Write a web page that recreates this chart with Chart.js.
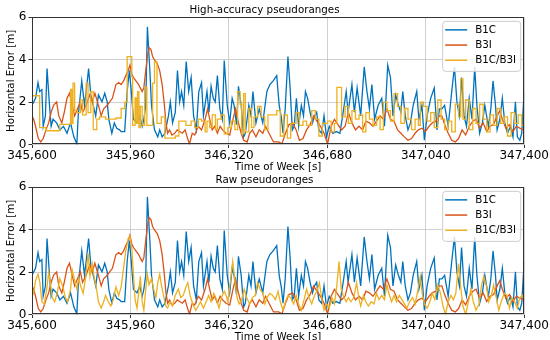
<!DOCTYPE html>
<html>
<head>
<meta charset="utf-8">
<script src="https://cdn.jsdelivr.net/npm/chart.js@4.4.1/dist/chart.umd.min.js"></script>
<style>
html, body { margin: 0; padding: 0; background: #fff; overflow: hidden; width: 550px; height: 340px; }
.wrap { position: absolute; left: 0; width: 550px; height: 174px; }
</style>
</head>
<body>
<div class="wrap" style="top:0px"><canvas id="hpChart" width="550" height="174"></canvas></div>
<div class="wrap" style="top:170px"><canvas id="rawChart" width="550" height="174"></canvas></div>
<script>
// --- DATA (time of week [s], horizontal error [m]) ---
const xTicks = [345600, 345960, 346320, 346680, 347040, 347400];
const yTicks = [0, 2, 4, 6];
const seriesNames = ['B1C', 'B3I', 'B1C/B3I'];

// B1C single frequency (same in both panels)
const b1cT = [345600,345613,345622,345628,345636,345641,345649,345655,345664,345670,345677,345690,345702,345715,345728,345741,345753,345764,345769,345782,345792,345798,345807,345815,345824,345833,345843,345856,345866,345875,345881,345892,345901,345910,345920,345926,345939,345948,345956,345962,345971,345984,345994,346003,346009,346016,346022,346031,346037,346048,346060,346067,346076,346086,346099,346106,346114,346124,346132,346140,346147,346155,346164,346173,346182,346191,346201,346210,346220,346227,346240,346247,346255,346263,346270,346278,346287,346296,346303,346314,346323,346332,346339,346348,346355,346365,346374,346380,346393,346401,346408,346419,346431,346444,346459,346470,346482,346495,346504,346512,346518,346526,346536,346544,346552,346559,346567,346575,346585,346593,346600,346608,346617,346626,346633,346641,346649,346659,346668,346677,346687,346700,346713,346726,346738,346749,346756,346770,346779,346789,346802,346815,346825,346834,346843,346853,346866,346879,346889,346901,346911,346920,346930,346940,346949,346956,346965,346975,346984,346994,347007,347015,347026,347035,347045,347058,347071,347081,347090,347099,347109,347122,347135,347145,347154,347163,347171,347180,347189,347199,347209,347219,347227,347237,347247,347256,347269,347278,347286,347295,347301,347311,347320,347329,347339,347350,347359,347368,347375,347384,347391,347400];
const b1cV = [1.85,2.18,2.92,2.5,2.59,0.86,1.35,3.58,1.85,0.86,1.19,1.02,0.69,0.86,0.53,1.02,0.36,0.03,1.35,3.0,1.85,2.5,3.58,2.34,1.85,1.35,2.34,2.01,2.42,2.01,1.19,0.53,1.02,0.77,0.69,0.61,0.61,2.5,3.49,2.67,1.19,1.02,1.35,0.86,1.19,1.85,5.55,3.49,1.85,0.69,0.36,0.69,0.36,0.53,1.35,2.01,1.02,1.52,3.49,2.01,2.5,1.85,3.91,2.5,3.16,1.35,0.69,2.5,2.92,1.35,2.5,1.52,2.75,2.18,2.01,3.25,1.68,1.19,3.96,1.85,1.02,2.18,1.85,0.94,2.75,1.85,0.36,0.53,1.85,1.35,2.5,1.02,1.68,1.02,2.5,2.83,3.0,3.25,1.85,1.27,0.53,1.68,4.15,2.67,0.69,0.86,2.18,0.86,1.85,1.35,2.5,2.18,1.52,1.02,1.35,1.52,0.69,0.53,1.35,0.36,0.86,0.53,0.61,0.53,1.52,2.5,1.52,2.83,1.52,2.67,1.35,3.66,2.5,1.68,2.83,1.19,1.85,2.18,0.86,3.74,3.16,1.35,2.34,1.85,1.52,2.5,1.35,0.69,1.02,1.85,2.5,1.19,1.85,0.2,1.35,2.18,2.67,0.69,1.68,1.68,1.85,0.86,2.5,3.66,2.01,1.35,3.16,1.35,0.86,2.18,1.19,3.66,1.85,0.53,1.02,1.85,0.86,1.68,3.0,1.85,0.69,1.19,2.18,1.02,0.53,0.86,0.36,2.01,0.36,0.2,0.53,2.5];

// B3I single frequency (same in both panels)
const b3iT = [345600,345606,345613,345623,345632,345641,345651,345661,345670,345679,345690,345698,345709,345718,345728,345737,345747,345756,345766,345777,345785,345798,345811,345820,345830,345843,345853,345862,345875,345884,345894,345907,345917,345926,345935,345943,345952,345958,345965,345971,345980,345990,345996,346003,346009,346016,346022,346028,346035,346041,346048,346058,346067,346076,346083,346090,346096,346103,346112,346122,346131,346140,346150,346160,346169,346176,346186,346195,346208,346220,346233,346242,346250,346259,346268,346278,346288,346297,346310,346323,346335,346344,346355,346365,346374,346387,346396,346406,346419,346431,346444,346454,346470,346483,346502,346514,346527,346540,346553,346566,346578,346591,346604,346617,346630,346642,346655,346668,346681,346694,346706,346719,346732,346745,346757,346770,346783,346796,346809,346821,346834,346847,346860,346873,346885,346898,346911,346924,346937,346949,346962,346975,346988,347001,347013,347026,347039,347052,347064,347077,347090,347099,347109,347122,347135,347148,347160,347173,347186,347199,347212,347224,347237,347250,347263,347275,347288,347301,347311,347320,347333,347346,347359,347371,347384,347397];
const b3iV = [1.35,1.19,0.86,0.28,0.12,0.28,0.69,1.02,1.52,1.85,2.01,1.35,1.02,1.52,2.18,2.42,1.85,1.35,1.68,2.01,1.52,1.85,2.34,2.01,2.42,1.85,1.35,1.68,1.85,2.01,2.18,2.83,2.92,2.83,3.0,3.25,3.49,3.74,3.33,3.16,3.0,2.83,2.67,2.5,2.67,3.49,4.15,4.57,4.48,4.15,3.99,3.82,3.49,2.83,2.01,1.02,0.53,0.69,0.45,0.53,0.69,0.61,0.53,0.69,0.28,0.03,0.53,0.45,0.86,0.69,1.19,1.68,1.19,0.69,0.86,0.53,0.86,0.69,0.53,0.45,1.19,1.68,1.02,0.53,0.2,0.12,0.53,0.69,0.36,0.69,0.53,0.86,0.45,0.12,0.12,0.03,0.53,0.94,1.02,0.69,0.2,0.28,0.69,0.94,1.35,1.1,0.86,0.53,0.03,0.86,1.19,0.94,0.69,0.86,1.52,1.02,0.69,0.86,0.69,1.1,1.02,0.86,1.1,1.35,1.19,1.68,1.19,1.1,0.69,0.53,0.36,0.2,0.28,0.53,0.69,0.77,0.61,0.86,1.02,1.1,1.35,1.35,0.94,0.53,0.2,0.12,0.28,0.69,0.45,0.86,1.1,1.19,0.77,1.02,0.61,0.86,0.94,1.35,1.6,1.19,0.77,0.94,0.61,0.86,0.77,0.69];

// B1C/B3I dual frequency, high-accuracy pseudoranges (held steps)
const hpT = [345600,345628,345651,345702,345741,345746,345750,345756,345766,345777,345785,345798,345805,345815,345824,345837,345847,345869,345907,345926,345939,345948,345965,345968,345977,345981,345986,345991,345996,346003,346012,346020,346041,346048,346057,346073,346086,346124,346137,346163,346182,346195,346208,346220,346233,346240,346250,346259,346271,346278,346291,346303,346316,346329,346342,346352,346361,346367,346374,346380,346393,346403,346412,346425,346438,346451,346463,346495,346508,346521,346534,346546,346566,346578,346591,346604,346623,346636,346649,346662,346681,346694,346706,346715,346732,346745,346757,346770,346783,346796,346809,346821,346834,346847,346860,346873,346885,346898,346911,346924,346937,346949,346962,346975,346988,347001,347013,347020,347032,347045,347058,347071,347084,347096,347109,347122,347135,347148,347160,347168,347176,347186,347199,347212,347224,347237,347250,347263,347275,347288,347301,347314,347327,347339,347352,347365,347378,347391,347400];
const hpV = [2.3,0.8,0.65,0.95,2.6,1.0,2.9,1.6,1.5,2.1,1.4,2.9,1.5,2.5,0.7,1.2,1.3,1.2,1.25,1.7,2.0,4.15,3.2,0.9,2.2,1.0,2.5,0.8,1.8,0.9,2.7,0.9,2.9,3.9,1.0,1.3,0.3,0.4,1.1,0.9,1.1,0.8,1.2,1.1,0.6,1.1,0.8,1.4,0.7,1.2,1.4,0.5,0.8,1.1,0.7,2.5,1.9,0.5,2.4,0.6,1.7,0.8,1.3,1.8,1.3,0.7,1.4,1.6,0.4,1.4,0.3,1.0,1.5,0.9,1.1,0.9,1.6,1.2,0.4,1.0,1.1,0.6,1.0,2.7,1.3,1.8,1.0,1.6,1.2,1.4,0.6,1.5,1.2,0.9,1.3,0.7,2.0,1.6,1.1,2.4,1.8,1.0,1.7,1.2,0.7,1.2,0.9,2.0,1.8,1.1,1.5,0.8,2.1,1.2,0.7,1.1,0.6,1.9,1.3,3.1,1.2,2.1,0.7,1.7,1.0,1.9,1.2,0.6,1.4,0.9,1.7,1.0,1.3,0.4,1.5,1.0,1.4,0.9,0.9];

// B1C/B3I dual frequency, raw pseudoranges
const rawT = [345600,345606,345613,345622,345629,345636,345645,345655,345661,345668,345674,345683,345692,345702,345713,345722,345730,345741,345747,345756,345764,345771,345779,345787,345797,345805,345812,345820,345828,345835,345843,345853,345862,345869,345879,345888,345897,345907,345917,345926,345935,345943,345952,345958,345965,345971,345977,345984,345990,345996,346003,346009,346016,346022,346028,346037,346045,346053,346060,346067,346073,346081,346089,346096,346105,346114,346124,346135,346144,346153,346163,346170,346178,346188,346199,346208,346216,346227,346237,346246,346255,346265,346275,346284,346293,346303,346310,346316,346325,346334,346342,346350,346357,346367,346376,346385,346396,346406,346416,346425,346434,346444,346452,346459,346470,346480,346490,346500,346508,346518,346527,346536,346546,346557,346566,346575,346585,346595,346604,346613,346623,346633,346642,346651,346659,346668,346677,346687,346697,346706,346715,346723,346731,346738,346749,346757,346766,346777,346787,346795,346802,346812,346821,346830,346841,346851,346860,346869,346879,346889,346898,346905,346915,346924,346933,346943,346953,346962,346971,346981,346992,347001,347009,347020,347027,347035,347045,347055,347064,347073,347084,347094,347103,347112,347122,347132,347141,347150,347160,347168,347176,347186,347196,347205,347214,347224,347235,347243,347252,347263,347270,347280,347288,347298,347307,347316,347327,347337,347346,347355,347365,347375,347384,347393,347400];
const rawV = [1.2,1.0,1.6,1.9,1.5,0.6,0.5,1.3,2.0,1.4,0.8,0.6,1.0,1.7,1.3,0.8,0.6,1.2,2.1,1.6,1.2,1.7,1.3,1.0,1.8,2.9,1.8,2.4,1.7,1.3,0.6,0.3,0.6,0.9,0.6,0.4,0.7,1.3,0.9,1.3,2.2,3.0,3.6,3.7,3.1,1.9,0.7,0.3,1.0,1.8,0.6,0.2,1.2,1.9,1.4,1.7,1.2,0.8,1.5,1.9,1.4,0.9,0.4,0.3,0.6,0.4,0.9,1.2,0.8,0.9,1.3,1.5,0.9,0.5,0.2,0.4,0.6,0.3,0.6,0.9,0.6,1.0,0.7,0.3,0.8,1.1,0.9,0.6,1.5,2.5,1.6,0.8,0.5,0.7,1.2,0.8,0.5,0.8,0.9,1.5,1.2,1.0,0.5,0.8,1.0,0.9,0.7,1.1,0.6,0.2,0.6,0.9,0.8,0.5,0.9,0.5,0.2,0.7,1.2,0.8,0.5,0.9,1.1,1.5,0.8,0.2,0.5,0.3,0.8,0.5,1.4,2.5,1.2,0.9,0.6,0.8,0.6,0.8,1.5,0.8,0.4,0.9,0.6,0.4,0.6,0.5,1.0,0.7,0.9,0.7,1.4,1.0,0.6,0.9,0.6,0.9,0.7,0.5,0.3,0.6,0.8,0.5,1.0,1.8,1.0,0.5,0.3,0.6,1.0,0.7,1.4,1.0,0.4,0.0,0.6,0.9,0.7,1.0,2.4,1.3,0.4,0.0,0.6,1.2,0.6,0.2,0.5,1.3,1.8,1.3,0.6,0.9,1.4,0.8,0.2,0.6,1.0,0.9,0.3,0.8,0.6,0.3,0.8,0.9,0.7];

const colors = ['#0072BD', '#D95319', '#EDB120'];
const FONT = "'DejaVu Sans', sans-serif";

function pts(t, v) {
    const n = Math.min(t.length, v.length);
    const out = [];
    for (let i = 0; i < n; i++) out.push({ x: t[i], y: v[i] });
    return out;
}

// --- frame + legend drawn inside the plot, matplotlib style ---
const framePlugin = {
    id: 'frame',
    afterDatasetsDraw(chart) {
        const { ctx, chartArea: a } = chart;
        ctx.save();
        ctx.strokeStyle = '#333';
        ctx.lineWidth = 1;
        ctx.strokeRect(Math.round(a.left) + 0.5, Math.round(a.top) + 0.5,
            Math.round(a.right - a.left) - 1, Math.round(a.bottom - a.top) - 1);

        // legend box
        const bx = a.right - 82, by = a.top + 3.5, bw = 78, bh = 50;
        ctx.fillStyle = 'rgba(255,255,255,0.8)';
        ctx.strokeStyle = '#cccccc';
        ctx.beginPath();
        ctx.roundRect(bx + 0.5, by + 0.5, bw, bh, 3);
        ctx.fill();
        ctx.stroke();
        ctx.font = '10.3px ' + FONT;
        ctx.textBaseline = 'middle';
        seriesNames.forEach((name, i) => {
            const cy = by + 9 + i * 15.2;
            ctx.strokeStyle = colors[i];
            ctx.lineWidth = 1.5;
            ctx.beginPath();
            ctx.moveTo(bx + 3, cy);
            ctx.lineTo(bx + 25, cy);
            ctx.stroke();
            ctx.fillStyle = '#000';
            ctx.fillText(name, bx + 33, cy + 0.5);
        });
        ctx.restore();
    }
};

function makeChart(canvasId, title, dualT, dualV, stepped) {
    const ds = [
        { label: seriesNames[0], data: pts(b1cT, b1cV), borderColor: colors[0], order: 3 },
        { label: seriesNames[1], data: pts(b3iT, b3iV), borderColor: colors[1], order: 2 },
        { label: seriesNames[2], data: pts(dualT, dualV), borderColor: colors[2], order: 1, stepped: stepped }
    ];
    ds.forEach(d => { d.borderWidth = 1.3; d.pointRadius = 0; d.tension = 0; d.fill = false; });

    const gridOpts = { color: '#c4c4c4', lineWidth: 0.8, borderDash: [1.5, 1.5], tickLength: 3.5, tickColor: '#333', tickBorderDash: [], tickWidth: 1 };

    return new Chart(document.getElementById(canvasId), {
        type: 'line',
        data: { datasets: ds },
        options: {
            responsive: false,
            animation: false,
            events: [],
            layout: { padding: { left: 0, right: 21, top: 0, bottom: 0 } },
            plugins: {
                legend: { display: false },
                tooltip: { enabled: false },
                title: {
                    display: true, text: title, color: '#000',
                    font: { family: FONT, size: 10.3, weight: 'normal' },
                    padding: { top: 4, bottom: 1 }
                }
            },
            scales: {
                x: {
                    type: 'linear', min: xTicks[0], max: xTicks[xTicks.length - 1],
                    afterBuildTicks: s => { s.ticks = xTicks.map(v => ({ value: v })); },
                    afterFit: s => { s.height = 29.5; },
                    border: { display: false },
                    grid: gridOpts,
                    ticks: {
                        color: '#000', padding: 1, maxRotation: 0, autoSkip: false,
                        font: { family: FONT, size: 12 },
                        callback: v => v.toLocaleString('en-US')
                    },
                    title: {
                        display: true, text: 'Time of Week [s]', color: '#000',
                        font: { family: FONT, size: 10.3 }, padding: { top: 0, bottom: 0 }
                    }
                },
                y: {
                    min: 0, max: 6,
                    afterBuildTicks: s => { s.ticks = yTicks.map(v => ({ value: v })); },
                    afterFit: s => { s.width = 32; },
                    border: { display: false },
                    grid: gridOpts,
                    ticks: { color: '#000', padding: 2, font: { family: FONT, size: 12 } },
                    title: {
                        display: true, text: 'Horizontal Error [m]', color: '#000',
                        font: { family: FONT, size: 10.3 }, padding: { top: 5.5, bottom: 0 }
                    }
                }
            }
        },
        plugins: [framePlugin]
    });
}

makeChart('hpChart', 'High-accuracy pseudoranges', hpT, hpV, true);
makeChart('rawChart', 'Raw pseudoranges', rawT, rawV, false);
</script>
</body>
</html>
